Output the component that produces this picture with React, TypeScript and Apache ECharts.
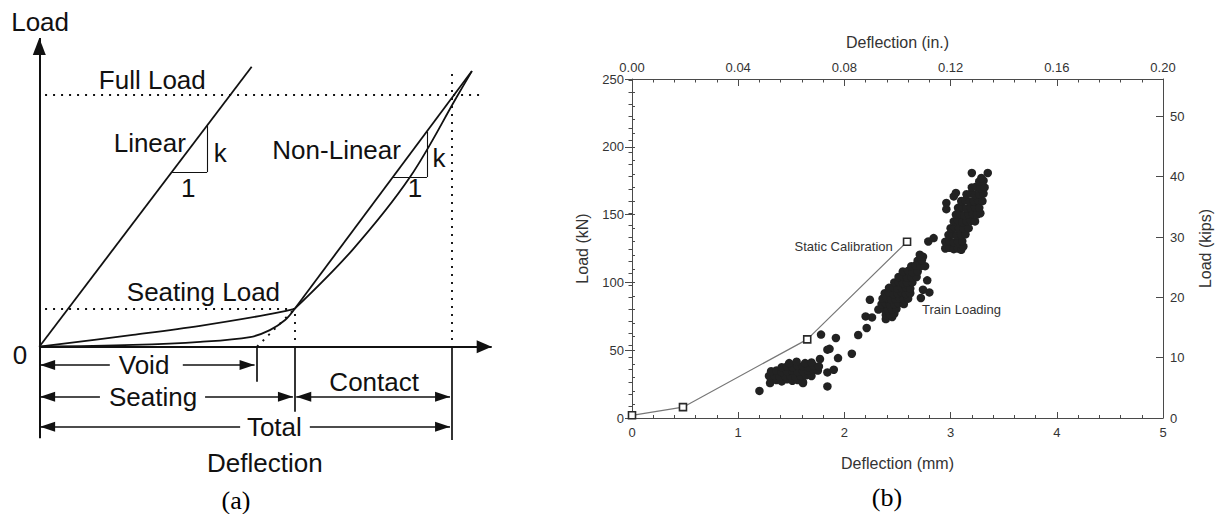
import React, { useEffect, useRef } from "react";
import * as echarts from "echarts";

// ---------------- Panel (a): schematic load–deflection diagram ----------------
// Arbitrary units: total deflection = 10, full load = 10.
const LOAD_AXIS_TIP: [number, number] = [0, 12.26];
const DEFL_AXIS_TIP: [number, number] = [10.97, 0];
const FULL_LOAD = 10;
const SEATING_LOAD = 1.5;
const VOID_DEFL = 5.28;
const SEATING_DEFL = 6.19;
const TOTAL_DEFL = 10;
const TOP_LOAD = 11.0;

const LINEAR_PATH = [[0, 0], [5.15, 11.12]];
const SEATING_UPPER = [[0, 0], [2.27, 0.47], [3.9, 0.83], [5.52, 1.27], [6.19, 1.5]];
const SEATING_LOWER = [[0, 0], [2.27, 0.07], [3.9, 0.19], [5.11, 0.38], [5.59, 0.66], [5.96, 1.06], [6.19, 1.5]];
const CONTACT_LINEAR = [[6.19, 1.5], [10.49, 10.95]];
const CONTACT_CURVE = [[6.19, 1.5], [7.59, 3.84], [8.99, 6.74], [10.15, 10.0], [10.49, 10.95]];

// stiffness triangles: [x0, x1, yBase, yTop]
const LINEAR_TRIANGLE = [3.22, 4.07, 6.94, 8.79];
const NONLINEAR_TRIANGLE = [8.58, 9.4, 6.74, 8.54];

// dimension rows below the deflection axis
const VOID_ROW = -0.73;
const SEATING_ROW = -1.99;
const TOTAL_ROW = -3.18;
const VOID_GAP = [1.71, 3.48];
const SEATING_GAP = [1.47, 4.02];
const TOTAL_GAP = [4.87, 6.56];
const EXT_ORIGIN_END = -3.64;
const EXT_VOID_END = -1.39;
const EXT_SEATING_END = -2.58;
const EXT_TOTAL_END = -3.71;

const A_TEXTS: [string, number, number][] = [
  ["Load", 0.02, 12.9],
  ["Full Load", 2.74, 10.6],
  ["Linear", 2.68, 8.09],
  ["k", 4.39, 7.69],
  ["1", 3.61, 6.3],
  ["Non-Linear", 7.21, 7.81],
  ["k", 9.69, 7.5],
  ["1", 9.11, 6.3],
  ["Seating Load", 3.98, 2.17],
  ["0", -0.47, -0.33],
  ["Void", 2.54, -0.73],
  ["Seating", 2.76, -1.99],
  ["Contact", 8.12, -1.39],
  ["Total", 5.7, -3.18],
  ["Deflection", 5.47, -4.62],
];

// ---------------- Panel (b): static calibration vs. train loading ----------------
const STATIC_DEFL = [0, 0.48, 1.65, 2.59]; // mm
const STATIC_LOAD = [2, 8, 58, 130]; // kN

const TRAIN_LOW = [
  [1.2, 20], [1.3, 25.8], [1.61, 25.8],
  [1.31, 27.5], [1.36, 28], [1.41, 27], [1.46, 28.5], [1.51, 27.5], [1.56, 28], [1.61, 26.5],
  [1.29, 31], [1.34, 31.5], [1.39, 30.5], [1.44, 31], [1.49, 31.5], [1.54, 30.5], [1.59, 31], [1.64, 31.5], [1.69, 31],
  [1.31, 34.5], [1.36, 35], [1.41, 34], [1.46, 34.5], [1.51, 35], [1.56, 34], [1.61, 34.5], [1.66, 35], [1.71, 35.5], [1.75, 35],
  [1.41, 37.5], [1.46, 38], [1.51, 37.5], [1.56, 38.5], [1.61, 38], [1.66, 37.5], [1.71, 38.5], [1.76, 38],
  [1.48, 40.5], [1.55, 41.5], [1.63, 40.5], [1.69, 41], [1.77, 43.5],
];

const TRAIN_SPARSE = [
  [1.78, 61.5], [1.92, 59], [1.84, 50.4], [1.86, 51], [1.94, 44.2], [1.84, 33.6], [1.9, 35.6], [1.84, 23.3],
  [2.07, 47.4], [2.13, 61.2], [2.21, 66.4], [2.2, 74.9], [2.26, 74.2], [2.24, 87.2],
];

const TRAIN_MID = [
  [2.39, 73], [2.45, 74.5], [2.39, 76], [2.43, 76.5], [2.47, 77],
  [2.32, 80], [2.37, 80.5], [2.41, 79.5], [2.45, 80], [2.49, 80.5],
  [2.35, 84], [2.39, 84.5], [2.43, 83.5], [2.47, 84], [2.51, 84.5], [2.56, 84],
  [2.36, 88], [2.4, 88.5], [2.44, 87.5], [2.48, 88], [2.52, 88.5], [2.56, 87.5], [2.6, 88],
  [2.38, 92], [2.42, 92.5], [2.46, 91.5], [2.5, 92], [2.54, 92.5], [2.58, 91.5], [2.62, 92],
  [2.42, 96], [2.46, 96.5], [2.5, 95.5], [2.54, 96], [2.58, 96.5], [2.62, 95.5],
  [2.47, 100], [2.51, 100.5], [2.55, 99.5], [2.59, 100], [2.64, 100],
  [2.51, 104], [2.55, 104.5], [2.59, 103.5], [2.63, 104], [2.68, 104],
  [2.55, 108], [2.6, 108.5], [2.64, 107.5], [2.69, 108],
  [2.63, 112], [2.67, 112.5], [2.72, 112], [2.76, 112],
  [2.69, 116], [2.73, 116.5], [2.74, 119], [2.71, 120.4],
  [2.72, 88.5], [2.74, 94.6], [2.8, 92.6], [2.78, 101.5],
];

const TRAIN_HIGH = [
  [2.79, 130.2], [2.84, 132.7],
  [2.95, 125], [2.99, 125.5], [3.03, 124.5], [3.07, 125], [3.1, 124], [3.12, 126.5],
  [2.95, 130], [2.99, 130.5], [3.03, 129.5], [3.07, 130], [3.11, 130.5],
  [2.98, 135], [3.02, 135.5], [3.06, 134.5], [3.1, 135], [3.14, 135.5],
  [3.0, 140], [3.04, 140.5], [3.08, 139.5], [3.12, 140], [3.17, 140],
  [3.03, 145], [3.07, 145.5], [3.11, 144.5], [3.15, 145], [3.19, 145.5], [3.23, 145],
  [3.05, 150], [3.09, 150.5], [3.13, 149.5], [3.17, 150], [3.21, 150.5], [3.25, 150], [3.28, 151],
  [3.07, 155], [3.11, 155.5], [3.15, 154.5], [3.19, 155], [3.23, 155.5], [3.27, 155],
  [3.1, 160], [3.14, 160.5], [3.18, 159.5], [3.22, 160], [3.26, 160.5], [3.3, 160],
  [3.15, 165], [3.19, 165.5], [3.23, 164.5], [3.27, 165], [3.31, 165.5],
  [3.2, 170], [3.24, 170.5], [3.28, 169.5], [3.32, 170],
  [3.27, 174.5], [3.31, 175], [3.29, 177], [3.2, 180.7], [3.35, 180.7],
  [2.96, 154], [2.96, 158.6], [3.03, 163.4], [3.05, 166],
];

const TRAIN_LABEL_AT = [2.73, 80];

const KN_PER_KIP = 4.448222;
const LOAD_MAX_KN = 250;
const LOAD_MAX_KIPS = LOAD_MAX_KN / KN_PER_KIP;

// ---------------- styles ----------------
const INK = "#111111";
const AXIS = "#4a4a4a";
const TXT = "#333333";
const SANS = "'Liberation Sans', Arial, Helvetica, sans-serif";
const SERIF = "'Liberation Serif', 'Times New Roman', serif";

type Pt = [number, number];

const seg = (a: Pt, b: Pt, lineStyle: any) => [{ coord: a, lineStyle }, { coord: b }];
const solid = (a: Pt, b: Pt, width = 1.6) => seg(a, b, { type: "solid", width, color: INK });
const dotted = (a: Pt, b: Pt) => seg(a, b, { type: [2, 6], width: 1.9, color: INK });
const arrowHead = (size: number[]) => ({ symbol: "triangle", symbolSize: size, symbolOffset: [0, "50%"] });
const arrow = (from: Pt, to: Pt, size = [10, 15], width = 1.7) => [
  { coord: from, lineStyle: { type: "solid", width, color: INK } },
  { coord: to, ...arrowHead(size) },
];
const doubleArrow = (from: Pt, to: Pt, size = [10, 15]) => [
  { coord: from, lineStyle: { type: "solid", width: 1.7, color: INK }, ...arrowHead(size) },
  { coord: to, ...arrowHead(size) },
];

const guideLines = [
  // axes
  arrow([0, 0], LOAD_AXIS_TIP, [13, 17], 2),
  arrow([0, 0], DEFL_AXIS_TIP, [13, 15], 2),
  // dotted reference lines
  dotted([0.14, FULL_LOAD], [10.69, FULL_LOAD]),
  dotted([0.14, SEATING_LOAD], [SEATING_DEFL, SEATING_LOAD]),
  dotted([TOTAL_DEFL, 0.27], [TOTAL_DEFL, TOP_LOAD]),
  dotted([SEATING_DEFL, 0.27], [SEATING_DEFL, SEATING_LOAD]),
  dotted([VOID_DEFL, 0], [SEATING_DEFL, SEATING_LOAD]),
  // stiffness triangles
  solid([LINEAR_TRIANGLE[0], LINEAR_TRIANGLE[2]], [LINEAR_TRIANGLE[1], LINEAR_TRIANGLE[2]], 1.1),
  solid([LINEAR_TRIANGLE[1], LINEAR_TRIANGLE[2]], [LINEAR_TRIANGLE[1], LINEAR_TRIANGLE[3]], 1.1),
  solid([NONLINEAR_TRIANGLE[0], NONLINEAR_TRIANGLE[2]], [NONLINEAR_TRIANGLE[1], NONLINEAR_TRIANGLE[2]], 1.1),
  solid([NONLINEAR_TRIANGLE[1], NONLINEAR_TRIANGLE[2]], [NONLINEAR_TRIANGLE[1], NONLINEAR_TRIANGLE[3]], 1.1),
  // extension lines
  solid([0, 0], [0, EXT_ORIGIN_END], 2),
  solid([VOID_DEFL, 0], [VOID_DEFL, EXT_VOID_END], 1.7),
  solid([SEATING_DEFL, 0], [SEATING_DEFL, EXT_SEATING_END], 1.7),
  solid([TOTAL_DEFL, 0], [TOTAL_DEFL, EXT_TOTAL_END], 1.7),
  // dimension arrows
  arrow([VOID_GAP[0], VOID_ROW], [0.02, VOID_ROW]),
  arrow([VOID_GAP[1], VOID_ROW], [VOID_DEFL - 0.06, VOID_ROW]),
  arrow([SEATING_GAP[0], SEATING_ROW], [0.02, SEATING_ROW]),
  arrow([SEATING_GAP[1], SEATING_ROW], [SEATING_DEFL - 0.04, SEATING_ROW]),
  doubleArrow([SEATING_DEFL + 0.04, SEATING_ROW], [TOTAL_DEFL - 0.04, SEATING_ROW]),
  arrow([TOTAL_GAP[0], TOTAL_ROW], [0.02, TOTAL_ROW]),
  arrow([TOTAL_GAP[1], TOTAL_ROW], [TOTAL_DEFL - 0.04, TOTAL_ROW]),
];

const curve = (data: number[][], smooth: number | boolean = false) => ({
  type: "line",
  xAxisIndex: 0,
  yAxisIndex: 0,
  data,
  smooth,
  symbol: "none",
  silent: true,
  lineStyle: { color: INK, width: 1.8 },
});

const hiddenAxis = (min: number, max: number) => ({
  gridIndex: 0,
  type: "value",
  min,
  max,
  show: false,
});

const axisText = { fontSize: 13, color: TXT, fontFamily: SANS };
const nameText = { fontSize: 16, color: TXT, fontFamily: SANS };
const axisLine = { show: true, onZero: false, lineStyle: { color: AXIS, width: 1 } };
const tickStyle = { color: AXIS, width: 1 };

const helperAxis = (position: string, interval: number, max: number, length: number) => ({
  gridIndex: 1,
  type: "value",
  position,
  min: 0,
  max,
  interval,
  axisLine: { show: false },
  axisTick: { show: true, inside: true, length, lineStyle: tickStyle },
  axisLabel: { show: false },
  splitLine: { show: false },
});

const option: any = {
  animation: false,
  backgroundColor: "#ffffff",
  grid: [
    { left: 2.18, top: 9.42, width: 499, height: 503.4 },
    { left: 632, top: 79, width: 531, height: 339 },
  ],
  xAxis: [
    hiddenAxis(-0.9, 11.2),
    {
      gridIndex: 1,
      type: "value",
      position: "bottom",
      min: 0,
      max: 5,
      interval: 1,
      axisLine,
      axisTick: { inside: true, length: 6, lineStyle: tickStyle },
      minorTick: { show: true, splitNumber: 5, length: 3, lineStyle: tickStyle },
      axisLabel: { ...axisText, margin: 8 },
      splitLine: { show: false },
      name: "Deflection (mm)",
      nameLocation: "middle",
      nameGap: 37,
      nameTextStyle: nameText,
    },
    {
      gridIndex: 1,
      type: "value",
      position: "top",
      min: 0,
      max: 0.2,
      interval: 0.04,
      axisLine,
      axisTick: { inside: true, length: 7, lineStyle: tickStyle },
      minorTick: { show: true, splitNumber: 5, length: 3.5, lineStyle: tickStyle },
      axisLabel: { ...axisText, margin: 5, formatter: (v: number) => v.toFixed(2) },
      splitLine: { show: false },
      name: "Deflection (in.)",
      nameLocation: "middle",
      nameGap: 29,
      nameTextStyle: nameText,
    },
  ],
  yAxis: [
    hiddenAxis(-6.6, 13.4),
    {
      gridIndex: 1,
      type: "value",
      position: "left",
      min: 0,
      max: LOAD_MAX_KN,
      interval: 50,
      axisLine,
      axisTick: { inside: false, length: 7, lineStyle: tickStyle },
      axisLabel: { ...axisText, margin: 8 },
      splitLine: { show: false },
      name: "Load (kN)",
      nameLocation: "middle",
      nameRotate: 90,
      nameGap: 42,
      nameTextStyle: nameText,
    },
    helperAxis("left", 10, LOAD_MAX_KN, 3),
    {
      gridIndex: 1,
      type: "value",
      position: "right",
      min: 0,
      max: LOAD_MAX_KIPS,
      interval: 10,
      axisLine,
      axisTick: { inside: true, length: 7, lineStyle: tickStyle },
      axisLabel: {
        ...axisText,
        margin: 7,
        formatter: (v: number) => (Math.abs(v % 10) < 1e-6 ? String(v) : ""),
      },
      splitLine: { show: false },
      name: "Load (kips)",
      nameLocation: "middle",
      nameRotate: 90,
      nameGap: 34,
      nameTextStyle: nameText,
    },
    helperAxis("right", 2, LOAD_MAX_KIPS, 3.5),
  ],
  graphic: [
    {
      type: "text",
      x: 236,
      y: 500,
      silent: true,
      style: { text: "(a)", fontSize: 26, fontFamily: SERIF, fill: "#000", align: "center", verticalAlign: "middle" },
    },
    {
      type: "text",
      x: 887,
      y: 497,
      silent: true,
      style: { text: "(b)", fontSize: 26, fontFamily: SERIF, fill: "#000", align: "center", verticalAlign: "middle" },
    },
  ],
  series: [
    {
      ...curve(LINEAR_PATH),
      markLine: {
        silent: true,
        animation: false,
        symbol: ["none", "none"],
        label: { show: false },
        emphasis: { disabled: true },
        lineStyle: { color: INK, width: 1.6, type: "solid" },
        data: guideLines,
      },
    },
    curve(SEATING_UPPER, 0.35),
    curve(SEATING_LOWER, 0.35),
    curve(CONTACT_LINEAR),
    curve(CONTACT_CURVE, 0.35),
    {
      type: "scatter",
      xAxisIndex: 0,
      yAxisIndex: 0,
      silent: true,
      symbolSize: 0,
      itemStyle: { opacity: 1 },
      data: A_TEXTS.map(([t, x, y]) => ({ name: t, value: [x, y] })),
      label: {
        show: true,
        position: "inside",
        formatter: "{b}",
        fontSize: 26,
        fontFamily: SANS,
        color: INK,
      },
    },
    {
      name: "Train Loading",
      type: "scatter",
      xAxisIndex: 1,
      yAxisIndex: 1,
      silent: true,
      symbol: "circle",
      symbolSize: 8.5,
      itemStyle: { color: "#222222", opacity: 1 },
      data: [...TRAIN_LOW, ...TRAIN_SPARSE, ...TRAIN_MID, ...TRAIN_HIGH],
    },
    {
      name: "Static Calibration",
      type: "line",
      xAxisIndex: 1,
      yAxisIndex: 1,
      silent: true,
      data: STATIC_DEFL.map((d, i) => [d, STATIC_LOAD[i]]),
      symbol: "rect",
      symbolSize: 7,
      lineStyle: { color: "#777777", width: 1.2 },
      itemStyle: { color: "#ffffff", borderColor: "#2a2a2a", borderWidth: 1.6 },
      label: {
        show: true,
        position: "left",
        distance: 10,
        offset: [0, 5],
        ...axisText,
        formatter: (p: any) => (p.dataIndex === STATIC_DEFL.length - 1 ? "Static Calibration" : ""),
      },
    },
    {
      type: "scatter",
      xAxisIndex: 1,
      yAxisIndex: 1,
      silent: true,
      symbolSize: 0,
      itemStyle: { opacity: 1 },
      data: [{ name: "Train Loading", value: TRAIN_LABEL_AT }],
      label: { show: true, position: "right", distance: 0, formatter: "{b}", ...axisText },
    },
  ],
};

export default function App() {
  const ref = useRef<HTMLDivElement>(null);
  useEffect(() => {
    if (!ref.current) return;
    const chart = echarts.init(ref.current, null, { renderer: "svg" });
    chart.setOption(option);
    return () => chart.dispose();
  }, []);
  return (
    <div
      ref={ref}
      style={{ position: "absolute", left: 0, top: 0, width: 1216, height: 514, background: "#fff" }}
    />
  );
}
